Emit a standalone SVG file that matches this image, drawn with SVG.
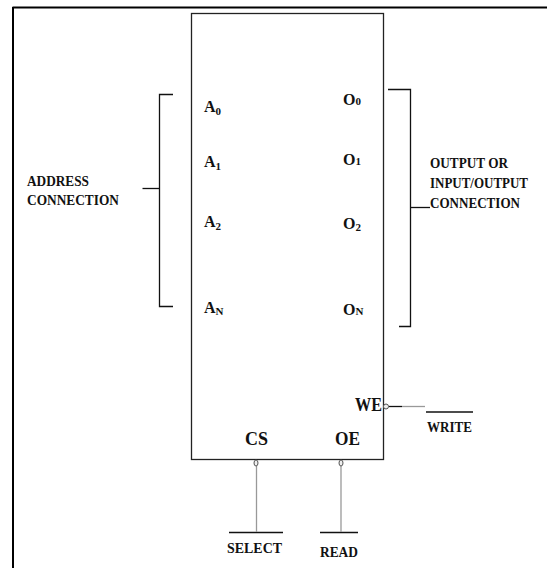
<svg xmlns="http://www.w3.org/2000/svg" width="547" height="568" viewBox="0 0 547 568">
<style>
.t{font-family:"Liberation Serif","Times New Roman",serif;font-weight:bold;fill:#111}
.s{font-size:11px}
.ln{stroke:#111;stroke-width:1.3;fill:none}
.gl{stroke:#999;stroke-width:1.3;fill:none}
.bub{stroke:#555;stroke-width:1;fill:#eee}
</style>
<rect width="547" height="568" fill="#fff"/>
<g id="frame">
<line x1="12.5" y1="7.5" x2="547" y2="7.5" stroke="#000" stroke-width="2"/>
<line x1="13" y1="7" x2="13" y2="568" stroke="#000" stroke-width="2"/>
</g>
<g id="chip">
<rect x="191.5" y="13.5" width="192" height="446" fill="#fff" stroke="#222" stroke-width="1.3"/>
<text class="t" x="204" y="112" font-size="16">A<tspan class="s" dy="3">0</tspan></text>
<text class="t" x="204" y="167" font-size="16">A<tspan class="s" dy="3">1</tspan></text>
<text class="t" x="204" y="227" font-size="16">A<tspan class="s" dy="3">2</tspan></text>
<text class="t" x="204" y="313" font-size="16">A<tspan class="s" dy="2">N</tspan></text>
<text class="t" x="343" y="105" font-size="16">O<tspan class="s" dy="0">0</tspan></text>
<text class="t" x="343" y="165" font-size="16">O<tspan class="s" dy="0">1</tspan></text>
<text class="t" x="343" y="229" font-size="16">O<tspan class="s" dy="2">2</tspan></text>
<text class="t" x="343" y="315" font-size="16">O<tspan class="s" dy="0">N</tspan></text>
<text class="t" x="355" y="411" font-size="18" textLength="27" lengthAdjust="spacingAndGlyphs">WE</text>
<text class="t" x="245" y="445" font-size="18" textLength="23" lengthAdjust="spacingAndGlyphs">CS</text>
<text class="t" x="335" y="445" font-size="18" textLength="25" lengthAdjust="spacingAndGlyphs">OE</text>
</g>
<g id="address">
<text class="t" x="27" y="186" font-size="15" textLength="62" lengthAdjust="spacingAndGlyphs">ADDRESS</text>
<text class="t" x="27" y="205" font-size="15" textLength="92" lengthAdjust="spacingAndGlyphs">CONNECTION</text>
</g>
<g id="output">
<text class="t" x="430" y="168" font-size="14.5" textLength="78" lengthAdjust="spacingAndGlyphs">OUTPUT OR</text>
<text class="t" x="430" y="188" font-size="14.5" textLength="98" lengthAdjust="spacingAndGlyphs">INPUT/OUTPUT</text>
<text class="t" x="430" y="208" font-size="14.5" textLength="90" lengthAdjust="spacingAndGlyphs">CONNECTION</text>
</g>
<g id="write">
<line class="ln" x1="426" y1="412" x2="473" y2="412"/>
<text class="t" x="427" y="432" font-size="15" textLength="45" lengthAdjust="spacingAndGlyphs">WRITE</text>
</g>
<g id="select">
<line class="ln" x1="229" y1="532.5" x2="283" y2="532.5"/>
<text class="t" x="227" y="553" font-size="15" textLength="55" lengthAdjust="spacingAndGlyphs">SELECT</text>
</g>
<g id="read">
<line class="ln" x1="320" y1="532.5" x2="358" y2="532.5"/>
<text class="t" x="320" y="557" font-size="15" textLength="38" lengthAdjust="spacingAndGlyphs">READ</text>
</g>
<g id="connectors">
<polyline class="ln" points="173,94.5 159.5,94.5 159.5,306.5 173,306.5"/>
<line class="ln" x1="142.5" y1="188.5" x2="159.5" y2="188.5"/>
<polyline class="ln" points="388,89.5 410.5,89.5 410.5,326.5 399,326.5"/>
<line class="ln" x1="410.5" y1="207.5" x2="430" y2="207.5"/>
<line class="ln" x1="388.5" y1="406.5" x2="402" y2="406.5"/>
<line class="gl" x1="402" y1="406.5" x2="425" y2="406.5"/>
<ellipse class="bub" cx="386" cy="406.5" rx="2.5" ry="2.5"/>
<line class="gl" x1="256.5" y1="466" x2="256.5" y2="532"/>
<line class="gl" x1="341" y1="466" x2="341" y2="532"/>
<ellipse class="bub" cx="256" cy="463" rx="2" ry="3"/>
<ellipse class="bub" cx="341" cy="463" rx="2" ry="3"/>
</g>
</svg>
